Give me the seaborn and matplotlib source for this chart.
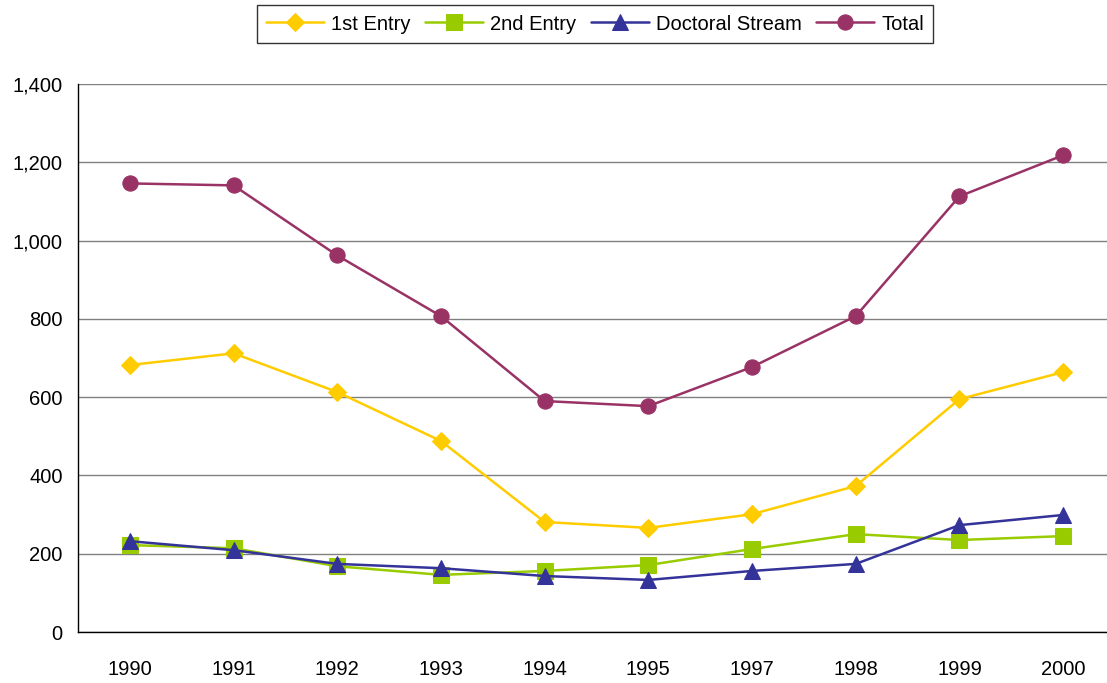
import matplotlib
matplotlib.use("Agg")
import matplotlib.pyplot as plt
import numpy as np
import pandas as pd
import seaborn as sns

# data
years = ["1990", "1991", "1992", "1993", "1994", "1995", "1997", "1998", "1999", "2000"]
first_entry = [682, 712, 613, 488, 281, 266, 301, 373, 595, 664]
second_entry = [222, 214, 168, 146, 156, 171, 212, 250, 235, 245]
doctoral = [232, 209, 174, 163, 143, 133, 156, 174, 273, 299]
total = [1146, 1141, 962, 807, 590, 577, 677, 807, 1113, 1218]

series_names = ["1st Entry", "2nd Entry", "Doctoral Stream", "Total"]
series_values = [first_entry, second_entry, doctoral, total]
colors = ["#FFCC00", "#99CC00", "#333399", "#993366"]
markers = ["D", "s", "^", "o"]
msizes = [9.5, 11, 11.5, 11]

sns.set_style("white")
plt.rcParams["font.family"] = ["Liberation Sans", "DejaVu Sans"]
plt.rcParams["text.color"] = "black"

fig = plt.figure(figsize=(11.07, 6.83), dpi=100)
ax = fig.add_axes([78 / 1107, (683 - 632) / 683, 1037 / 1107, 548 / 683])

x = np.arange(len(years))
for name, vals, c, m, ms in zip(series_names, series_values, colors, markers, msizes):
    df = pd.DataFrame({"x": x, "value": vals})
    sns.lineplot(data=df, x="x", y="value", ax=ax, color=c, marker=m,
                 markersize=ms, markeredgecolor=c, linewidth=1.8, label=name)

ax.set_xlim(-0.5, len(years) - 0.5)
ax.set_ylim(0, 1400)
ax.set_yticks(np.arange(0, 1401, 200))
ax.set_yticklabels([f"{v:,}" for v in range(0, 1401, 200)])
ax.set_xticks(x)
ax.set_xticklabels(years)
ax.set_xticks(np.arange(0.5, len(years) - 0.5, 1), minor=True)
ax.tick_params(axis="x", which="major", length=0, labelsize=14.5, pad=20, labelcolor="black")
ax.tick_params(axis="x", which="minor", length=5, width=1, color="black", direction="out")
ax.tick_params(axis="y", length=5, width=1, color="black", direction="out", labelsize=14.5, pad=6,
               labelcolor="black")
ax.set_xlabel("")
ax.set_ylabel("")
ax.yaxis.grid(True, color="#808080", linewidth=1)
ax.set_axisbelow(True)
for s in ["top", "right"]:
    ax.spines[s].set_visible(False)
for s in ["left", "bottom"]:
    ax.spines[s].set_color("black")
    ax.spines[s].set_linewidth(1)

leg = ax.legend(loc="center", bbox_to_anchor=(595 / 1107, (683 - 24) / 683), bbox_transform=fig.transFigure,
                ncol=4, frameon=True, fontsize=14.5, handlelength=2.9, handletextpad=0.35,
                columnspacing=0.7, borderpad=0.45, fancybox=False)
leg.get_frame().set_edgecolor("black")
leg.get_frame().set_linewidth(1)
for t in leg.get_texts():
    t.set_color("black")

fig.savefig("out.png", dpi=100)
